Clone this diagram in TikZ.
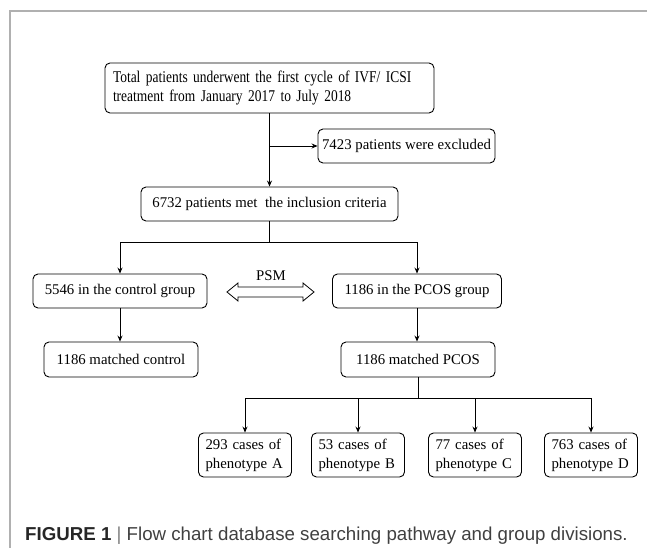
\documentclass[tikz,border=0pt]{standalone}
\usepackage{fontspec}
\setmainfont{Liberation Serif}
\newfontfamily\topfont{Liberation Serif}[FakeStretch=0.82]
\newfontfamily\capfont{Liberation Sans}
\usetikzlibrary{arrows.meta,calc}
\definecolor{framegray}{HTML}{B0B0B0}
\definecolor{capgray}{HTML}{404040}
\definecolor{capdark}{HTML}{262626}
\newcommand{\jline}[1]{\makebox[79pt][s]{#1}}
\tikzset{
  box/.style={draw, line width=0.9pt, rounded corners=5pt, inner sep=0pt,
    font=\fontsize{14.8}{19}\selectfont, align=center},
  phen/.style={box, minimum width=93pt, minimum height=44pt, text width=79pt, align=left},
  conn/.style={line width=0.8pt},
  arr/.style={conn, -{Stealth[length=6pt,width=5pt]}},
  frame/.style={draw=framegray, line width=1.5pt}
}
\begin{document}
\begin{tikzpicture}[x=1pt,y=-1pt]
\useasboundingbox (0,0) rectangle (647,548);
\draw[frame] (10,548) -- (10,11) -- (647,11);

\node[box, minimum width=329pt, minimum height=50pt, text width=313pt, align=left,
      font=\topfont\fontsize{16.4}{19}\selectfont] (top) at (269.5,88)
  {Total patients underwent the first cycle of IVF/ ICSI\\treatment from January 2017 to July 2018};
\node[box, minimum width=177pt, minimum height=34pt] (excl) at (406.5,146) {7423 patients were excluded};
\node[box, minimum width=257pt, minimum height=34pt] (incl) at (269.5,204) {6732 patients met~ the inclusion criteria};
\node[box, minimum width=174pt, minimum height=34pt] (ctrl) at (120,291) {5546 in the control group};
\node[box, minimum width=169pt, minimum height=34pt] (pcos) at (417,291) {1186 in the PCOS group};
\node[box, minimum width=154pt, minimum height=35pt] (mctrl) at (121,359.5) {1186 matched control};
\node[box, minimum width=154pt, minimum height=35pt] (mpcos) at (418,359.5) {1186 matched PCOS};
\node[phen] (pa) at (245,455) {\jline{293 cases of}\\phenotype A};
\node[phen] (pb) at (358,455) {\jline{53 cases of}\\phenotype B};
\node[phen] (pc) at (475,455) {\jline{77 cases of}\\phenotype C};
\node[phen] (pd) at (591,455) {\jline{763 cases of}\\phenotype D};

\node[font=\fontsize{14.8}{19}\selectfont, inner sep=0pt] (psm) at (271,276) {PSM};
\draw[line width=0.8pt] (227,292) -- (238,283) -- (238,287) -- (303,287) -- (303,283) -- (314,292)
  -- (303,301) -- (303,297) -- (238,297) -- (238,301) -- cycle;

% connectors
\coordinate (jex) at (top.south |- excl.west);
\draw[arr] (top.south) -- (incl.north);
\draw[arr] (jex) -- (excl.west);

\coordinate (j1) at ($(incl.south)+(0,21)$);
\draw[conn] (incl.south) -- (j1);
\draw[arr] (j1) -| (ctrl.north);
\draw[arr] (j1) -| (pcos.north);
\draw[arr] (ctrl.south) -- (ctrl.south |- mctrl.north);
\draw[arr] (pcos.south) -- (pcos.south |- mpcos.north);

\coordinate (j2) at ($(mpcos.south)+(0,21)$);
\draw[conn] (mpcos.south) -- (j2);
\draw[arr] (j2) -| (pa.north);
\draw[arr] (j2) -| (pb.north);
\draw[arr] (j2) -| (pc.north);
\draw[arr] (j2) -| (pd.north);

\node[anchor=base west, inner sep=0pt, text=capgray, font=\capfont\fontsize{18.7}{22}\selectfont] (cap) at (25,540)
  {\textcolor{capdark}{\textbf{FIGURE 1}} {\color{gray}|} Flow chart database searching pathway and group divisions.};
\end{tikzpicture}
\end{document}
